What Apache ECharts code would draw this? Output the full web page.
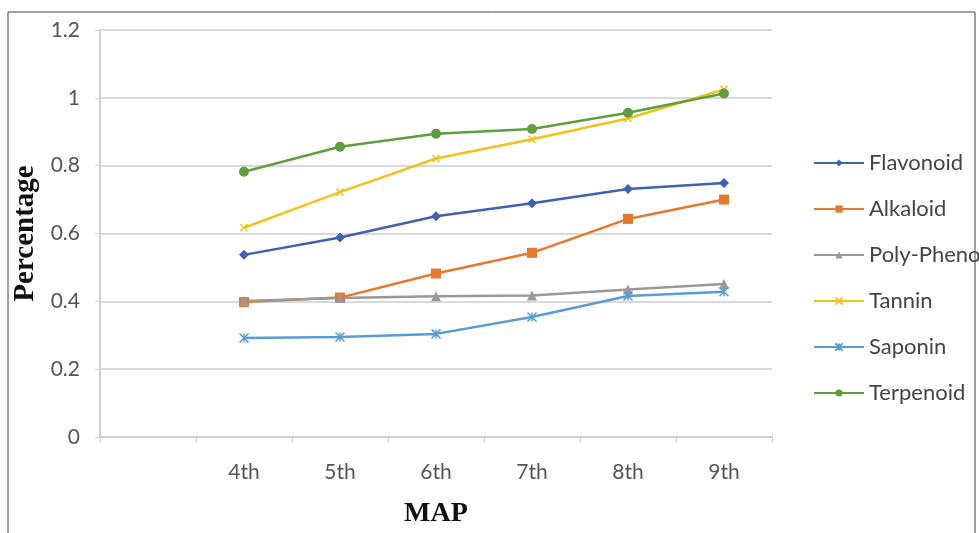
<!DOCTYPE html>
<html>
<head>
<meta charset="utf-8">
<script src="https://cdn.jsdelivr.net/npm/echarts@6/dist/echarts.min.js"></script>
<style>html,body{margin:0;padding:0;background:#fff}#c{width:979px;height:533px}</style>
</head>
<body>
<div id="c"></div>
<script>
const categories = ['', '4th', '5th', '6th', '7th', '8th', '9th'];
const yTicks = [0, 0.2, 0.4, 0.6, 0.8, 1, 1.2];
const flavonoid  = [null, 0.537, 0.588, 0.651, 0.689, 0.731, 0.749];
const alkaloid   = [null, 0.398, 0.411, 0.482, 0.543, 0.643, 0.700];
const polyPhenol = [null, 0.401, 0.410, 0.415, 0.417, 0.435, 0.451];
const tannin     = [null, 0.617, 0.722, 0.821, 0.878, 0.939, 1.025];
const saponin    = [null, 0.292, 0.295, 0.304, 0.354, 0.416, 0.428];
const terpenoid  = [null, 0.782, 0.856, 0.894, 0.908, 0.956, 1.013];

const xPath = 'path://M0,0L10,10M10,0L0,10';
const starPath = 'path://M0,0L10,10M10,0L0,10M5,0L5,10';
function mk(name, data, color, symbol, size, stroke) {
  const s = {
    name, type: 'line', data, connectNulls: false,
    symbol, symbolSize: size, showSymbol: true,
    lineStyle: { color, width: 2.5 },
    itemStyle: { color },
    emphasis: { disabled: true }
  };
  if (stroke) s.itemStyle = { color: 'rgba(0,0,0,0)', borderColor: color, borderWidth: 1.5 };
  return s;
}
const series = [
  mk('Flavonoid', flavonoid, '#4060b0', 'diamond', 10),
  mk('Alkaloid', alkaloid, '#e8772e', 'rect', 10),
  mk('Poly-Phenol', polyPhenol, '#999999', 'triangle', 10),
  mk('Tannin', tannin, '#f2c21b', xPath, 7, true),
  mk('Saponin', saponin, '#5b9bd5', starPath, 9, true),
  mk('Terpenoid', terpenoid, '#5e9e3e', 'circle', 10)
];

const chart = echarts.init(document.getElementById('c'), null, { renderer: 'canvas' });
chart.setOption({
  animation: false,
  backgroundColor: '#fff',
  grid: { left: 100, right: 207, top: 30, bottom: 95, containLabel: false },
  graphic: [{
    type: 'rect', shape: { x: 8, y: 12, width: 967, height: 540 },
    style: { fill: 'none', stroke: '#444', lineWidth: 1 }, silent: true
  }],
  xAxis: {
    type: 'category', data: categories, boundaryGap: true,
    name: 'MAP', nameLocation: 'middle', nameGap: 63,
    nameTextStyle: { fontFamily: 'Liberation Serif', fontWeight: 'bold', fontSize: 28, color: '#111' },
    axisLine: { lineStyle: { color: '#d0d0d0', width: 2 } },
    axisTick: { show: true, length: 5, lineStyle: { color: '#d0d0d0' } },
    axisLabel: { fontFamily: 'Lato', fontSize: 21, color: '#555', margin: 25 }
  },
  yAxis: {
    type: 'value', min: 0, max: 1.2, interval: 0.2,
    name: 'Percentage', nameLocation: 'middle', nameGap: 57,
    nameTextStyle: { fontFamily: 'Liberation Serif', fontWeight: 'bold', fontSize: 29, color: '#111' },
    axisLine: { show: true, lineStyle: { color: '#d0d0d0', width: 2 } },
    axisTick: { show: true, length: 5, lineStyle: { color: '#d0d0d0' } },
    splitLine: { lineStyle: { color: '#d9d9d9', width: 2 } },
    axisLabel: { fontFamily: 'Lato', fontSize: 21, color: '#555', margin: 20,
      formatter: v => { const t = yTicks.find(x => Math.abs(x - v) < 1e-9); return String(t !== undefined ? t : v); } }
  },
  legend: {
    orient: 'vertical', left: 808, top: 146,
    itemWidth: 50, itemHeight: 9, itemGap: 22,
    textStyle: { fontFamily: 'Lato', fontSize: 22, color: '#444', lineHeight: 24 },
    selectedMode: false
  },
  series
});
</script>
</body>
</html>
